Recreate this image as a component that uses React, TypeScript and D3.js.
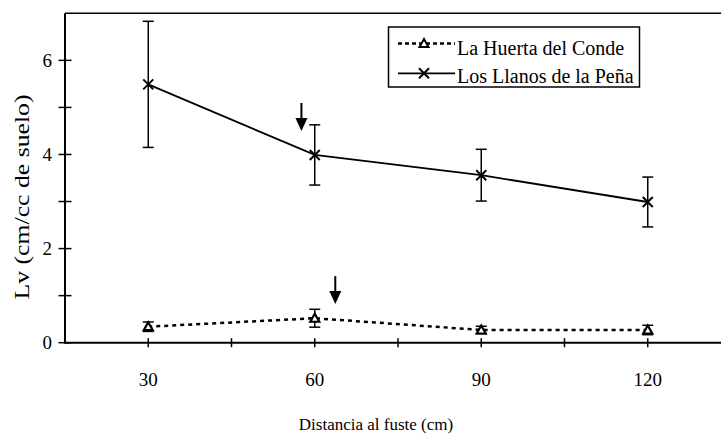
import React, { useEffect, useRef } from "react";
import * as d3 from "d3";

const distances = [30, 60, 90, 120];
const huertaValues = [0.34, 0.52, 0.27, 0.27];
const huertaErrors = [0.1, 0.19, 0.08, 0.1];
const llanosValues = [5.49, 3.99, 3.56, 2.99];
const llanosErrors = [1.34, 0.64, 0.55, 0.53];
const xTicks = [30, 60, 90, 120];
const xMinorTicks = [45, 75, 105];
const yTicks = [0, 2, 4, 6];
const yMinorTicks = [1, 3, 5];
const arrowPoints = [
  { x: 57.6, y: 4.5 },
  { x: 63.7, y: 0.82 },
];
const legendLabels = ["La Huerta del Conde", "Los Llanos de la Peña"];

const FONT = "'Liberation Serif', 'Times New Roman', serif";

export default function App() {
  const svgRef = useRef<SVGSVGElement | null>(null);

  useEffect(() => {
    const svg = d3.select(svgRef.current);
    svg.selectAll("*").remove();

    const width = 721;
    const height = 439;

    const x = d3.scaleLinear().domain([15, 135]).range([65, 731]);
    const y = d3.scaleLinear().domain([0, 7]).range([342.7, 13.3]);

    svg.attr("width", width).attr("height", height);

    // ejes
    const axisColor = "#000";
    svg
      .append("line")
      .attr("x1", x(15))
      .attr("x2", width)
      .attr("y1", y(0))
      .attr("y2", y(0))
      .attr("stroke", axisColor)
      .attr("stroke-width", 2);
    svg
      .append("line")
      .attr("x1", x(15))
      .attr("x2", width)
      .attr("y1", y(7))
      .attr("y2", y(7))
      .attr("stroke", axisColor)
      .attr("stroke-width", 1.5);
    svg
      .append("line")
      .attr("x1", x(15))
      .attr("x2", x(15))
      .attr("y1", y(7))
      .attr("y2", y(0) + 1)
      .attr("stroke", axisColor)
      .attr("stroke-width", 2);

    // marcas del eje x
    svg
      .selectAll(".xtick")
      .data([...xTicks, ...xMinorTicks])
      .enter()
      .append("line")
      .attr("x1", (d) => x(d))
      .attr("x2", (d) => x(d))
      .attr("y1", y(0) - 4.5)
      .attr("y2", y(0) + 4.5)
      .attr("stroke", axisColor)
      .attr("stroke-width", 1.5);

    svg
      .selectAll(".xlabel")
      .data(xTicks)
      .enter()
      .append("text")
      .attr("x", (d) => x(d))
      .attr("y", y(0) + 43)
      .attr("text-anchor", "middle")
      .attr("font-family", FONT)
      .attr("font-size", 19)
      .text((d) => d);

    // marcas del eje y
    svg
      .selectAll(".ytick")
      .data([...yTicks, ...yMinorTicks])
      .enter()
      .append("line")
      .attr("x1", x(15) - 6.5)
      .attr("x2", x(15) + 6.5)
      .attr("y1", (d) => y(d))
      .attr("y2", (d) => y(d))
      .attr("stroke", axisColor)
      .attr("stroke-width", 1.5);

    svg
      .selectAll(".ylabel")
      .data(yTicks)
      .enter()
      .append("text")
      .attr("x", x(15) - 13)
      .attr("y", (d) => y(d))
      .attr("dy", "0.35em")
      .attr("text-anchor", "end")
      .attr("font-family", FONT)
      .attr("font-size", 19)
      .text((d) => d);

    // titulos de ejes
    svg
      .append("text")
      .attr("x", 376)
      .attr("y", 430)
      .attr("text-anchor", "middle")
      .attr("font-family", FONT)
      .attr("font-size", 17)
      .text("Distancia al fuste (cm)");

    svg
      .append("text")
      .attr("transform", `translate(29, 197) rotate(-90)`)
      .attr("text-anchor", "middle")
      .attr("font-family", FONT)
      .attr("font-size", 20)
      .attr("textLength", 205)
      .attr("lengthAdjust", "spacingAndGlyphs")
      .text("Lv (cm/cc de suelo)");

    const huerta = distances.map((d, i) => ({
      x: d,
      v: huertaValues[i],
      e: huertaErrors[i],
    }));
    const llanos = distances.map((d, i) => ({
      x: d,
      v: llanosValues[i],
      e: llanosErrors[i],
    }));

    const line = d3
      .line<{ x: number; v: number }>()
      .x((d) => x(d.x))
      .y((d) => y(d.v));

    // barras de error
    const drawErrors = (data: { x: number; v: number; e: number }[]) => {
      const g = svg.append("g").attr("stroke", "#000").attr("stroke-width", 1.5);
      data.forEach((d) => {
        g.append("line")
          .attr("x1", x(d.x))
          .attr("x2", x(d.x))
          .attr("y1", y(d.v + d.e))
          .attr("y2", y(d.v - d.e));
        [d.v + d.e, d.v - d.e].forEach((v) => {
          g.append("line")
            .attr("x1", x(d.x) - 5.5)
            .attr("x2", x(d.x) + 5.5)
            .attr("y1", y(v))
            .attr("y2", y(v));
        });
      });
    };
    drawErrors(huerta);
    drawErrors(llanos);

    // lineas
    svg
      .append("path")
      .datum(huerta)
      .attr("d", line)
      .attr("fill", "none")
      .attr("stroke", "#000")
      .attr("stroke-width", 2.5)
      .attr("stroke-dasharray", "4,4");

    svg
      .append("path")
      .datum(llanos)
      .attr("d", line)
      .attr("fill", "none")
      .attr("stroke", "#000")
      .attr("stroke-width", 1.8);

    // marcadores
    const triangle = (cx: number, cy: number) =>
      `M${cx},${cy - 4.5}L${cx + 4.5},${cy + 3.5}L${cx - 4.5},${cy + 3.5}Z`;
    const cross = (cx: number, cy: number) =>
      `M${cx - 5},${cy - 5}L${cx + 5},${cy + 5}M${cx - 5},${cy + 5}L${cx + 5},${cy - 5}`;

    svg
      .selectAll(".tri")
      .data(huerta)
      .enter()
      .append("path")
      .attr("d", (d) => triangle(x(d.x), y(d.v)))
      .attr("fill", "#fff")
      .attr("stroke", "#000")
      .attr("stroke-width", 2.2);

    svg
      .selectAll(".cross")
      .data(llanos)
      .enter()
      .append("path")
      .attr("d", (d) => cross(x(d.x), y(d.v)))
      .attr("fill", "none")
      .attr("stroke", "#000")
      .attr("stroke-width", 2);

    // flechas
    arrowPoints.forEach((p) => {
      const ax = x(p.x);
      const ay = y(p.y);
      svg
        .append("line")
        .attr("x1", ax)
        .attr("x2", ax)
        .attr("y1", ay - 28)
        .attr("y2", ay - 10)
        .attr("stroke", "#000")
        .attr("stroke-width", 2);
      svg
        .append("path")
        .attr("d", `M${ax - 6},${ay - 13}L${ax + 6},${ay - 13}L${ax},${ay}Z`)
        .attr("fill", "#000");
    });

    // leyenda
    const legend = svg.append("g");
    legend
      .append("rect")
      .attr("x", 388.5)
      .attr("y", 27)
      .attr("width", 251)
      .attr("height", 60)
      .attr("fill", "#fff")
      .attr("stroke", "#000")
      .attr("stroke-width", 1.5);

    const rows = [43.5, 73.3];
    legend
      .append("line")
      .attr("x1", 398)
      .attr("x2", 455)
      .attr("y1", rows[0])
      .attr("y2", rows[0])
      .attr("stroke", "#000")
      .attr("stroke-width", 2.5)
      .attr("stroke-dasharray", "4,3");
    legend
      .append("path")
      .attr("d", triangle(424, rows[0]))
      .attr("fill", "#fff")
      .attr("stroke", "#000")
      .attr("stroke-width", 2);
    legend
      .append("line")
      .attr("x1", 398)
      .attr("x2", 455)
      .attr("y1", rows[1])
      .attr("y2", rows[1])
      .attr("stroke", "#000")
      .attr("stroke-width", 1.8);
    legend
      .append("path")
      .attr("d", cross(424, rows[1]))
      .attr("fill", "none")
      .attr("stroke", "#000")
      .attr("stroke-width", 2);

    legend
      .selectAll(".ltext")
      .data(legendLabels)
      .enter()
      .append("text")
      .attr("x", 457)
      .attr("y", (d, i) => rows[i] + (i === 0 ? 11.5 : 10))
      .attr("font-family", FONT)
      .attr("font-size", 20)
      .text((d) => d);
  }, []);

  return (
    <svg
      ref={svgRef}
      style={{ position: "absolute", left: 0, top: 0, background: "#fff" }}
    />
  );
}
